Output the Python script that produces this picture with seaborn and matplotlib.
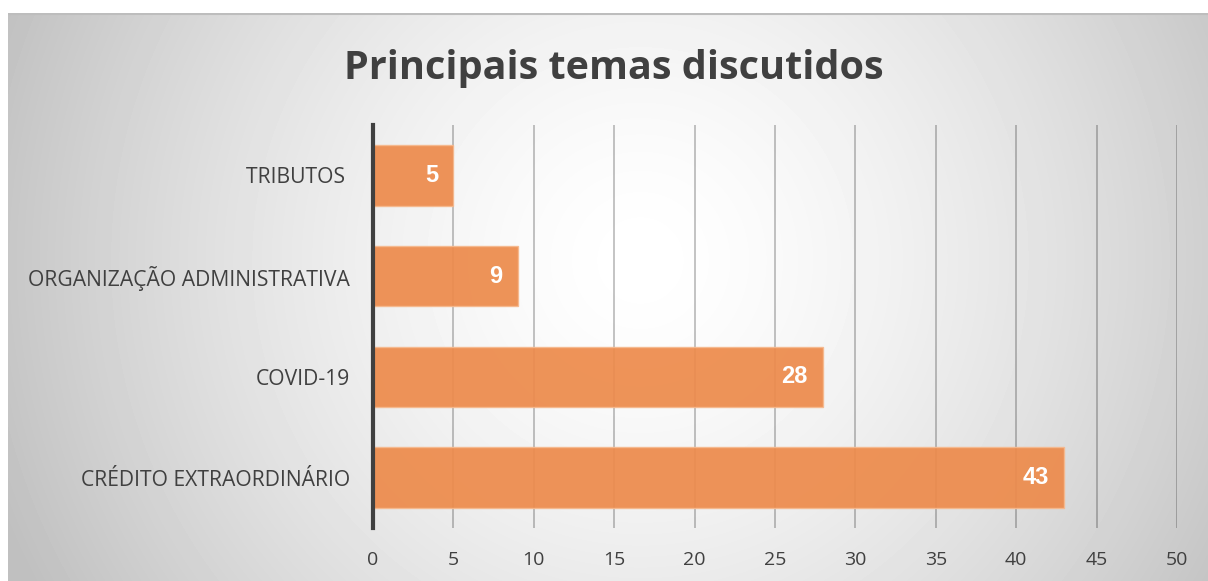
import numpy as np
import pandas as pd
import matplotlib
matplotlib.use('Agg')
import matplotlib.pyplot as plt
import seaborn as sns

categories = ['TRIBUTOS ', 'ORGANIZAÇÃO ADMINISTRATIVA', 'COVID-19', 'CRÉDITO EXTRAORDINÁRIO']
counts = [5, 9, 28, 43]
x_ticks = [0, 5, 10, 15, 20, 25, 30, 35, 40, 45, 50]
title = 'Principais temas discutidos'

df = pd.DataFrame({'tema': categories, 'qtd': counts})

sns.set_theme(style='white')
plt.rcParams['font.family'] = ['Open Sans', 'DejaVu Sans']

W, H = 1208, 581
fig = plt.figure(figsize=(W / 100, H / 100), dpi=100)
fig.patch.set_facecolor('white')

# radial grey gradient behind the chart area
bg = fig.add_axes([8 / W, 0, 1 - 8 / W, (H - 13) / H])
bg.set_axis_off()
yy, xx = np.mgrid[13:H, 8:W]
d = np.sqrt((xx - 640.0) ** 2 + (yy - 260.0) ** 2) / 690.0
t = np.clip(d, 0, 1) ** 1.5
shade = 1.0 - t * (1.0 - 0.75)
bg.imshow(shade, cmap='gray', vmin=0, vmax=1, aspect='auto', interpolation='bilinear')
bg.axhline(0, color='#bdbdbd', lw=1.5)

ax = fig.add_axes([373 / W, 53 / H, (1177 - 373) / W, (528 - 125) / H])
ax.set_facecolor('none')

sns.barplot(data=df, x='qtd', y='tema', orient='h', color='#ED8B4C', width=0.6,
            saturation=1, edgecolor='#F6B98E', linewidth=1, alpha=0.93, ax=ax)

ax.set_xlim(0, 50)
ax.set_xticks(x_ticks)
ax.set_xticklabels([str(v) for v in x_ticks])
ax.grid(axis='x', color='black', alpha=0.25, lw=1.3)
ax.set_axisbelow(True)
ax.set_ylim(3.5, -0.5)
ax.set_xlabel('')
ax.set_ylabel('')

for s in ['top', 'right', 'bottom']:
    ax.spines[s].set_visible(False)
ax.spines['left'].set_color('#404040')
ax.spines['left'].set_linewidth(3)
ax.spines['left'].set_zorder(5)

ax.tick_params(axis='x', length=0, pad=16.5, labelsize=14, labelcolor='#404040')
ax.tick_params(axis='y', length=0, pad=16.5, labelsize=15.2, labelcolor='#404040')

# value labels inside the end of each bar
for p, v in zip(ax.patches, counts):
    ax.annotate(str(v), xy=(p.get_x() + p.get_width(), p.get_y() + p.get_height() / 2),
                xytext=(-11, 0), textcoords='offset points', ha='right', va='center',
                color='white', fontsize=17, fontweight='bold', family='Liberation Sans')

fig.text(614 / W, 1 - 68 / H, title, ha='center', va='center', fontsize=28.5,
         fontweight='bold', color='#404040')

fig.savefig('out.png', dpi=100)
